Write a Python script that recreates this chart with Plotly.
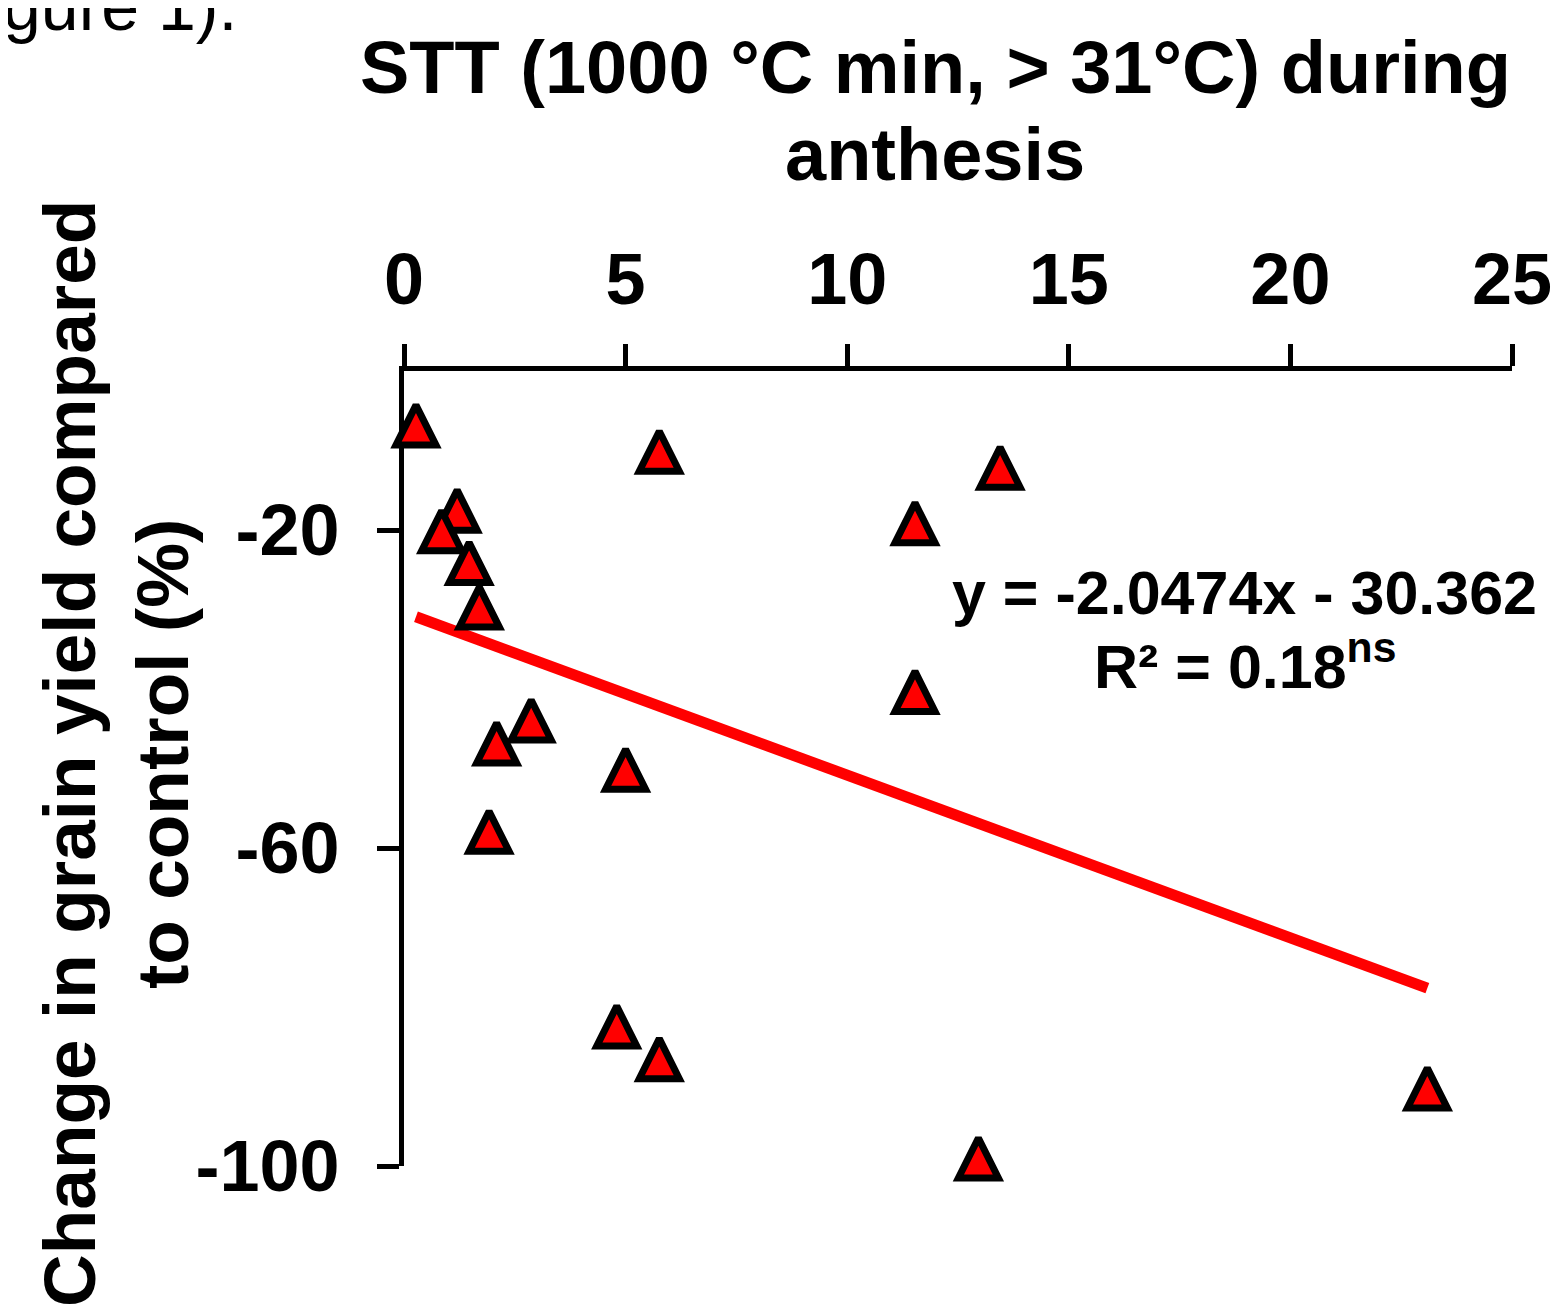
import plotly.graph_objects as go

# ---- data ----
stt = [0.27, 1.20, 0.85, 1.47, 1.70, 2.87, 2.09, 1.92, 5.76, 5.00,
       13.45, 11.53, 11.53, 4.80, 5.76, 12.96, 23.09]
yield_change = [-6.8, -17.5, -20.1, -24.1, -29.7, -43.9, -46.8, -57.9, -10.1, -50.1,
                -12.1, -19.1, -40.3, -82.4, -86.5, -99.0, -90.2]
slope = -2.0474
intercept = -30.362
r_squared = 0.18
x_tick_vals = [0, 5, 10, 15, 20, 25]
y_tick_vals = [-100, -60, -20]
y_tick_text = ["-100", "-60", "-20"]
title_line1 = "STT (1000 °C min, > 31°C) during"
title_line2 = "anthesis"
ytitle_line1 = "Change in grain yield compared"
ytitle_line2 = "to control (%)"
fragment_text = "gure 1)."

# ---- layout geometry (page pixels; the page body has an 8 px margin) ----
W, H = 1561, 1307
OFF = 8
L, R, T, B = 404, 1512, 371, 1166
FONT = "Liberation Sans, Arial, sans-serif"


def px_x(px):
    return (px - L) / (R - L)


def px_y(py):
    return (B - py) / (B - T)


fig = go.Figure()

line_x = [min(stt), max(stt)]
line_y = [slope * v + intercept for v in line_x]
fig.add_trace(go.Scatter(
    x=line_x, y=line_y, mode="lines",
    line=dict(color="#FF0000", width=11),
    hoverinfo="skip", cliponaxis=False,
))

fig.add_trace(go.Scatter(
    x=stt, y=yield_change, mode="markers",
    marker=dict(symbol="arrow-down", angle=180, standoff=20, size=40,
                color="#FF0000", line=dict(color="black", width=7)),
    cliponaxis=False,
))

fig.update_layout(
    width=W, height=H,
    margin=dict(l=L - OFF, r=W - (R - OFF), t=T - OFF, b=H - (B - OFF), pad=0),
    paper_bgcolor="white", plot_bgcolor="white",
    showlegend=False,
    font=dict(family=FONT, color="black"),
)

fig.update_xaxes(
    range=[0, 25], side="top", tickvals=x_tick_vals, automargin=False,
    ticks="outside", ticklen=22, tickwidth=5, tickcolor="black",
    showline=True, linewidth=5, linecolor="black",
    showgrid=False, zeroline=False,
    tickfont=dict(family=FONT, size=72, color="black", weight="bold"),
    ticklabelstandoff=11,
    layer="below traces",
)
fig.update_yaxes(
    range=[-100, 0], tickvals=y_tick_vals, ticktext=y_tick_text, automargin=False,
    ticks="outside", ticklen=22, tickwidth=5, tickcolor="black",
    showline=True, linewidth=5, linecolor="black",
    showgrid=False, zeroline=False,
    tickfont=dict(family=FONT, size=72, color="black", weight="bold"),
    ticklabelstandoff=23,
    layer="below traces",
)

annots = [
    dict(text="<b>" + title_line1 + "</b>", x=px_x(935), y=px_y(67), size=74),
    dict(text="<b>" + title_line2 + "</b>", x=px_x(935), y=px_y(154), size=74),
    dict(text="<b>y = %.4fx - %.3f</b>" % (slope, -intercept), x=px_x(1244), y=px_y(593), size=61),
    dict(text="<b>R² = %.2f<sup>ns</sup></b>" % r_squared, x=px_x(1245), y=px_y(662), size=61),
]
for a in annots:
    fig.add_annotation(
        text=a["text"], x=a["x"], y=a["y"], xref="paper", yref="paper",
        xanchor="center", yanchor="middle", showarrow=False,
        font=dict(family=FONT, size=a["size"], color="black"),
    )

for txt, cx in [(ytitle_line1, 69), (ytitle_line2, 162)]:
    fig.add_annotation(
        text="<b>" + txt + "</b>", x=px_x(cx), y=px_y(754), xref="paper", yref="paper",
        xanchor="center", yanchor="middle", showarrow=False, textangle=-90,
        font=dict(family=FONT, size=73, color="black"),
    )

fig.add_annotation(
    text=fragment_text, x=px_x(239), y=px_y(6), xref="paper", yref="paper",
    xanchor="right", yanchor="middle", showarrow=False,
    font=dict(family=FONT, size=68, color="black"),
)

fig.write_html("out.html")
